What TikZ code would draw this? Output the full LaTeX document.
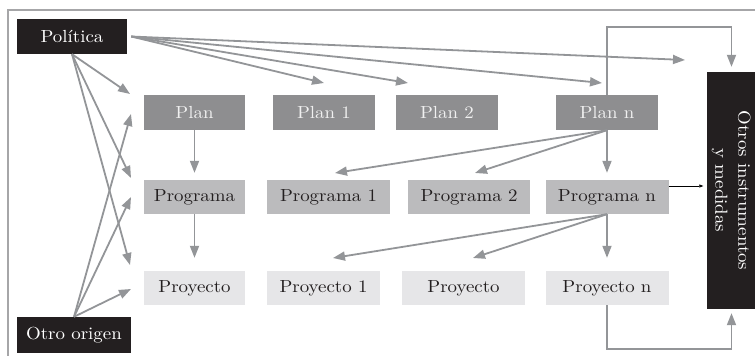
\documentclass[tikz,border=0pt]{standalone}
\usepackage{fontspec}
\setmainfont{lmroman10-regular.otf}[FakeStretch=1.08]
\usetikzlibrary{arrows.meta}
\definecolor{arr}{HTML}{939598}
\definecolor{blk}{HTML}{231F20}
\definecolor{planc}{HTML}{8E8E90}
\definecolor{progc}{HTML}{BBBBBD}
\definecolor{proyc}{HTML}{E6E6E8}
\definecolor{framec}{HTML}{A6A6A8}
\begin{document}
\begin{tikzpicture}[x=1pt,y=-1pt,
  font=\fontsize{17.5}{23}\selectfont,
  box/.style={inner sep=0pt, minimum height=35pt, anchor=center},
  blackbox/.style={box, fill=blk, text=white},
  planbox/.style={box, fill=planc, text=white!94!black, minimum width=102pt},
  progbox/.style={box, fill=progc, text=blk, minimum height=34pt},
  proybox/.style={box, fill=proyc, text=blk, minimum height=34pt},
  conn/.style={draw=arr, line width=1.8pt, -{Triangle[length=12pt,width=9pt]}},
  thinarr/.style={draw=black, line width=0.6pt, -{Triangle[length=4pt,width=3pt]}}]
\useasboundingbox (0,0) rectangle (755,356);
% frame
\draw[framec, line width=2pt] (8,357) -- (8,9.5) -- (756,9.5);
% nodes
\node[blackbox, minimum width=110pt] (pol) at (72,36.5) {Política};
\node[blackbox, minimum width=114pt, minimum height=36pt] (otro) at (74,335) {Otro origen};
\node[planbox, minimum width=101pt] (plan) at (194.5,112.5) {Plan};
\node[planbox] (plan1) at (324,112.5) {Plan 1};
\node[planbox] (plan2) at (447,112.5) {Plan 2};
\node[planbox] (plann) at (607,112.5) {Plan n};
\node[progbox, minimum width=101pt] (prog) at (194.5,197) {Programa};
\node[progbox, minimum width=123pt] (prog1) at (328.5,197) {Programa 1};
\node[progbox, minimum width=122pt] (prog2) at (469,197) {Programa 2};
\node[progbox, minimum width=123pt] (progn) at (607,197) {Programa n};
\node[proybox, minimum width=101pt] (proy) at (194.5,288) {Proyecto};
\node[proybox, minimum width=113pt] (proy1) at (323.5,288) {Proyecto 1};
\node[proybox, minimum width=123pt] (proy2) at (463.5,288) {Proyecto};
\node[proybox, minimum width=123pt] (proyn) at (607,288) {Proyecto n};
\node[blackbox, minimum width=50pt, minimum height=237pt] (otros) at (731.5,190.5)
  {\rotatebox{-90}{\begin{tabular}{@{}c@{}}Otros instrumentos\\y medidas\end{tabular}}};
% free ends
\coordinate (a1) at (130,94);
\coordinate (a2) at (131,178);
\coordinate (a3) at (130,265);
\coordinate (b1) at (131,114);
\coordinate (b2) at (131,197);
\coordinate (b3) at (131,289);
\coordinate (c1) at (324,83);
\coordinate (c2) at (408,83);
\coordinate (c3) at (602,83);
\coordinate (c4) at (685,60);
\coordinate (d1) at (335,173);
\coordinate (d2) at (475,173);
\coordinate (e1) at (333,258);
\coordinate (e2) at (473,258);
\coordinate (toprow) at (0,27);
\coordinate (botrow) at (0,349);
\coordinate (polr) at ([xshift=4pt]pol.east);
\coordinate (thinstart) at ([yshift=11pt]progn.east);
% connectors from Politica
\draw[conn] (pol.south) -- (a1);
\draw[conn] (pol.south) -- (a2);
\draw[conn] (pol.south) -- (a3);
\draw[conn] (polr) -- (c1);
\draw[conn] (polr) -- (c2);
\draw[conn] (polr) -- (c3);
\draw[conn] (polr) -- (c4);
% connectors from Otro origen
\draw[conn] (otro.north) -- (b1);
\draw[conn] (otro.north) -- (b2);
\draw[conn] (otro.north) -- (b3);
% vertical chains
\draw[conn, shorten >=7pt] (plan.south) -- (prog.north);
\draw[conn, shorten >=13pt] (prog.south) -- (proy.north);
\draw[conn, shorten >=7pt] (plann.south) -- (progn.north);
\draw[conn] (plann.south) -- (d2);
\draw[conn] (plann.south) -- (d1);
\draw[conn, shorten >=13pt] (progn.south) -- (proyn.north);
\draw[conn] (progn.south) -- (e2);
\draw[conn] (progn.south) -- (e1);
% to Otros instrumentos
\draw[conn, shorten >=5pt] (plann.north) -- (plann.north |- toprow) -| (otros.north);
\draw[conn, shorten >=4pt] (proyn.south) -- (proyn.south |- botrow) -| (otros.south);
\draw[thinarr, shorten >=3pt] (thinstart) -- (thinstart -| otros.west);
\end{tikzpicture}
\end{document}
